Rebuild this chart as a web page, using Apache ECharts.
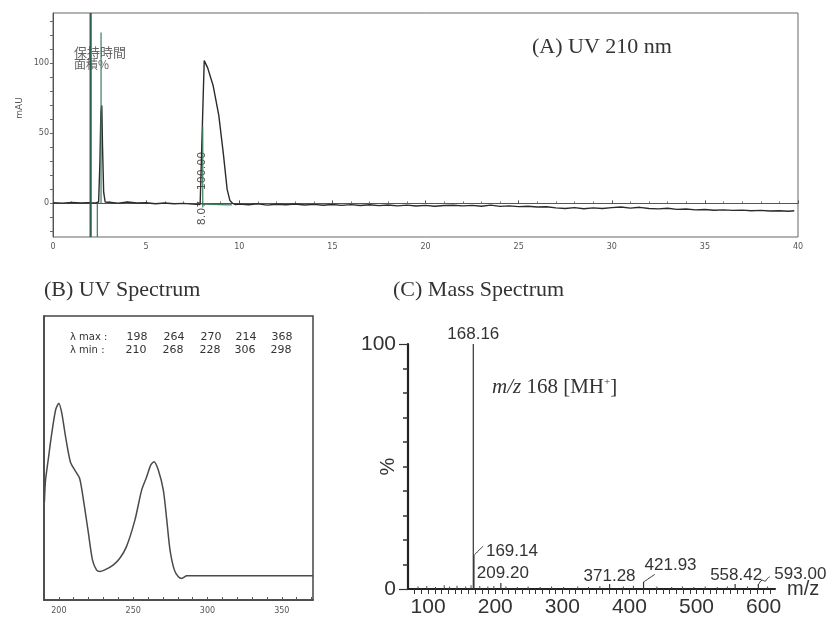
<!DOCTYPE html>
<html><head><meta charset="utf-8">
<script src="https://cdn.jsdelivr.net/npm/echarts@6/dist/echarts.min.js"></script>
<style>html,body{margin:0;padding:0;background:#fff}#c{width:832px;height:628px}</style>
</head><body><div id="c"></div>
<script>
// ---------- (A) chromatogram, UV 210 nm ----------
const chromTime = [0.0,0.5,1.0,1.5,1.9,2.0,2.1,2.3,2.45,2.52,2.57,2.62,2.66,2.72,2.8,3.0,3.5,4.0,4.5,5.0,5.5,6.0,6.5,7.0,7.5,7.9,8.0,8.05,8.12,8.3,8.6,8.9,9.15,9.35,9.5,9.65,9.8,
  10.0,10.5,11.0,11.5,12.0,12.5,13.0,13.5,14.0,14.5,15.0,15.5,16.0,16.5,17.0,17.5,18.0,18.5,19.0,19.5,20.0,20.5,21.0,21.5,22.0,22.5,23.0,23.5,24.0,24.5,25.0,25.5,26.0,26.5,27.0,27.5,28.0,28.5,29.0,29.5,30.0,30.5,31.0,31.5,32.0,32.5,33.0,33.5,34.0,34.5,35.0,35.5,36.0,36.5,37.0,37.5,38.0,38.5,39.0,39.5,39.8];
const chromSignal = [0.5,0.2,0.6,0.3,0.5,0.0,0.4,0.3,1,30,65,70,40,8,1,0.8,0.2,1.0,0.3,0.5,-0.2,0.3,-0.3,0.0,-0.5,-0.8,0,70,102,97,84,63,35,10,2,0,-0.8,
  -0.5,-1.0,-0.3,-1.2,-0.6,-1.0,-0.4,-1.1,-0.7,-1.3,-0.8,-1.4,-0.9,-1.5,-1.0,-1.6,-1.1,-1.8,-1.2,-1.9,-1.4,-2.0,-1.5,-1.3,-1.8,-1.4,-2.0,-1.2,-2.1,-1.8,-2.3,-2.0,-2.6,-2.4,-3.2,-3.6,-3.0,-3.8,-3.2,-3.6,-3.0,-2.6,-3.4,-2.8,-3.6,-3.9,-3.5,-4.3,-4.0,-4.6,-4.4,-4.9,-4.6,-5.0,-4.8,-5.2,-5.0,-5.4,-5.2,-5.6,-5.3];
const chromXTicks = [0,5,10,15,20,25,30,35,40];
const chromYLabels = [0,50,100];
const chromYTicks = [-20,-10,0,10,20,30,40,50,60,70,80,90,100,110,120,130];
// integration / event markers: [time, from, to]
const markerTime = [2.02, 2.38, 2.58, 8.04];
const markerFrom = [-24, -24, 0, -3];
const markerTo   = [136, 0, 122, 55];
const integBaseTime = [8.0, 9.6];
const integBaseVal  = [-0.5, -1.0];
const peakRT = '8.07';
const peakArea = '100.00';

// ---------- (B) UV spectrum ----------
const uvNm  = [190.3,191,193,194.9,197.8,200,202,204.5,207.7,210.6,214,216.9,219.6,222.6,225.3,227.5,230.9,236.5,241,245.5,251.2,255.7,259.1,261.8,264,266.9,270.3,272.6,274.8,277.7,280.4,282.7,286.1,290,371];
const uvAbs = [34.6,42,50,57.5,66.9,69.3,65.7,57.5,48.7,45.8,42.8,34,24.6,14.1,10.6,10,10.6,12.3,14.7,18.8,28.2,38.7,43.4,47.5,48.7,45.8,38.7,28.2,17.6,10.6,8.2,7.6,8.5,8.5,8.5];
const uvXLabels = [200,250,300,350];
const lambdaMax = ['198','264','270','214','368'];
const lambdaMin = ['210','268','228','306','298'];

// ---------- (C) Mass spectrum ----------
const msPeakMz  = [168.16,169.14,209.20,371.28,421.93,558.42,593.00];
const msPeakInt = [100,14,2.5,2,3,2,2];
const msNoiseMz  = [84,97,110,123,131,142,155,163,176,188,197,215,232,248,266,283,301,322,338,355,390,405,440,462,478,495,512,530,545,575,605];
const msNoiseInt = [1,1.2,0.8,1.5,1,1.3,1,1.5,1.2,1,1.2,1,0.8,1,0.8,1,0.8,1,0.8,1.2,1,1.3,1,0.8,1,0.8,1,0.8,1,1,1];
const msXLabels = [100,200,300,400,500,600];
const msYLabels = [0,100];

// ---------- build ----------
const chart = echarts.init(document.getElementById('c'));
const green = '#3d7a5c';
const series = [];

series.push({type:'line', xAxisIndex:0, yAxisIndex:0, symbol:'none', z:3,
  lineStyle:{color:'#2b2b2b', width:1.4},
  data: chromTime.map((t,i)=>[t, chromSignal[i]])});
markerTime.forEach((t,i)=>{
  series.push({type:'line', xAxisIndex:0, yAxisIndex:0, symbol:'none', z:4,
    lineStyle:{color: i===0 ? '#2e5e47' : green, width: i===0 ? 2.2 : 1.2},
    data:[[t, markerFrom[i]],[t, markerTo[i]]]});
});
series.push({type:'line', xAxisIndex:0, yAxisIndex:0, symbol:'none', z:4,
  lineStyle:{color:green, width:1.2},
  data: integBaseTime.map((t,i)=>[t, integBaseVal[i]])});

series.push({type:'line', xAxisIndex:1, yAxisIndex:1, symbol:'none', smooth:0.25,
  lineStyle:{color:'#4a4a4a', width:1.5},
  data: uvNm.map((n,i)=>[n, uvAbs[i]])});

const msLabelOffsets = [[0,1],[38,7],[2,1],[0,3],[27,-6],[1,2],[42,1]];
series.push({type:'bar', xAxisIndex:2, yAxisIndex:2, barWidth:1.2, z:3,
  itemStyle:{color:'#333'},
  data: msPeakMz.map((m,i)=>({value:[m, msPeakInt[i]],
    label:{show:true, position:'top', distance:2, offset:msLabelOffsets[i],
      formatter: m.toFixed(2), color:'#333', fontSize:17, fontFamily:'Liberation Sans'}}))});
series.push({type:'bar', xAxisIndex:2, yAxisIndex:2, barWidth:1, z:2,
  itemStyle:{color:'#444'},
  data: msNoiseMz.map((m,i)=>[m, msNoiseInt[i]])});
// label connectors
const connectors = [
  [[169.14,14],[182,17.5]],
  [[421.93,3],[438,6]],
  [[593,2],[598,3.6],[602,3.2],[606,4.4],[609,5]]
];
connectors.forEach(c=>series.push({type:'line', xAxisIndex:2, yAxisIndex:2, symbol:'none', smooth:true,
  lineStyle:{color:'#333', width:1}, data:c}));

const tickFrom = (a,b,s)=>{const r=[];for(let v=a;v<=b+1e-9;v+=s)r.push(v);return r;};

const smallLbl = {fontSize:8, color:'#555', fontFamily:'DejaVu Sans'};
const option = {
  animation:false,
  backgroundColor:'#ffffff',
  grid:[
    {left:53, top:13, width:745, height:224, show:true, borderColor:'#666', borderWidth:1},
    {left:44, top:316, width:269, height:284, show:true, borderColor:'#444', borderWidth:1.5},
    {left:408, top:344, width:367, height:245}
  ],
  xAxis:[
    {gridIndex:0, type:'value', min:0, max:40, interval:5,
      axisLine:{lineStyle:{color:'#555'}},
      axisTick:{inside:true, length:3, lineStyle:{color:'#555'}},
      minorTick:{show:true, splitNumber:5, length:2, lineStyle:{color:'#777'}},
      splitLine:{show:false},
      axisLabel:{...smallLbl, margin:6, customValues:chromXTicks}},
    {gridIndex:1, type:'value', min:190, max:371,
      axisLine:{lineStyle:{color:'#444', width:1.5}},
      axisTick:{inside:true, length:3, customValues:tickFrom(200,370,10), lineStyle:{color:'#555'}},
      splitLine:{show:false},
      axisLabel:{...smallLbl, margin:7, customValues:uvXLabels}},
    {gridIndex:2, type:'value', min:70, max:617,
      name:'m/z', nameLocation:'end', nameGap:12,
      nameTextStyle:{fontSize:20, color:'#333', fontFamily:'Liberation Sans', padding:[8,0,0,0]},
      axisLine:{lineStyle:{color:'#222', width:2.2}},
      axisTick:{length:5, customValues:tickFrom(80,610,10), lineStyle:{color:'#333', width:1}},
      splitLine:{show:false},
      axisLabel:{fontSize:21, color:'#333', fontFamily:'Liberation Sans', margin:8, customValues:msXLabels}}
  ],
  yAxis:[
    {gridIndex:0, type:'value', min:-24, max:136,
      axisLine:{show:true, lineStyle:{color:'#555'}},
      axisTick:{show:true, length:3, customValues:chromYTicks, lineStyle:{color:'#666'}},
      splitLine:{show:false},
      axisLabel:{...smallLbl, margin:4, customValues:chromYLabels}},
    {gridIndex:1, type:'value', min:0, max:100,
      axisLine:{show:true, lineStyle:{color:'#444', width:1.5}},
      axisTick:{show:false}, axisLabel:{show:false}, splitLine:{show:false}},
    {gridIndex:2, type:'value', min:0, max:100, interval:100,
      name:'%', nameLocation:'middle', nameGap:10, nameRotate:90, nameMoveOverlap:false,
      nameTextStyle:{fontSize:20, color:'#333', fontFamily:'Liberation Sans'},
      axisLine:{show:true, lineStyle:{color:'#222', width:2.2}},
      axisTick:{show:true, length:9, lineStyle:{color:'#333', width:1.2}},
      minorTick:{show:true, splitNumber:10, length:5, lineStyle:{color:'#333', width:1.5}},
      splitLine:{show:false},
      axisLabel:{fontSize:21, color:'#333', fontFamily:'Liberation Sans', margin:12, customValues:msYLabels}}
  ],
  series: series,
  graphic: []
};

const g = [];
const serif = 'Liberation Serif';
const txt = (x,y,text,o)=>g.push(Object.assign({type:'text', x:x, y:y, silent:true,
  style:Object.assign({text:text, fill:'#333', fontSize:22, fontFamily:serif, textVerticalAlign:'middle'}, o&&o.style||{})},
  o&&o.el||{}));
txt(532,47,'(A) UV 210 nm');
txt(44,290,'(B) UV Spectrum');
txt(393,290,'(C) Mass Spectrum');
g.push({type:'text', x:492, y:387, silent:true, style:{
  text:'{i|m/z} 168 [MH{s|+}]', fill:'#333', fontSize:21, fontFamily:serif, textVerticalAlign:'middle',
  rich:{i:{fontStyle:'italic', fontSize:21, fontFamily:serif, fill:'#333'},
        s:{fontSize:11, fontFamily:serif, fill:'#333', verticalAlign:'top', padding:[0,0,8,0]}}}});
txt(74,52,'保持時間',{style:{fontSize:13, fontFamily:'Noto Sans CJK JP', fill:'#666'}});
txt(74,64,'面積%',{style:{fontSize:12, fontFamily:'Noto Sans CJK JP', fill:'#666'}});
txt(20,108,'mAU',{style:{fontSize:9, fontFamily:'DejaVu Sans', fill:'#555', textAlign:'center'}, el:{rotation:Math.PI/2}});
txt(202,171,peakArea,{style:{fontSize:11, fontFamily:'DejaVu Sans', fill:'#555', textAlign:'center'}, el:{rotation:Math.PI/2}});
txt(202,213,peakRT,{style:{fontSize:11, fontFamily:'DejaVu Sans', fill:'#555', textAlign:'center'}, el:{rotation:Math.PI/2}});
// lambda table
const colX = [137,174,211,246,282];
txt(70,337,'λ max :',{style:{fontSize:10, fontFamily:'DejaVu Sans', fill:'#333'}});
txt(70,350,'λ min :',{style:{fontSize:10, fontFamily:'DejaVu Sans', fill:'#333'}});
lambdaMax.forEach((v,i)=>txt(colX[i],337,v,{style:{fontSize:11, fontFamily:'DejaVu Sans', fill:'#333', textAlign:'center'}}));
lambdaMin.forEach((v,i)=>txt(colX[i]-1,350,v,{style:{fontSize:11, fontFamily:'DejaVu Sans', fill:'#333', textAlign:'center'}}));
option.graphic = g;
chart.setOption(option);
</script></body></html>
